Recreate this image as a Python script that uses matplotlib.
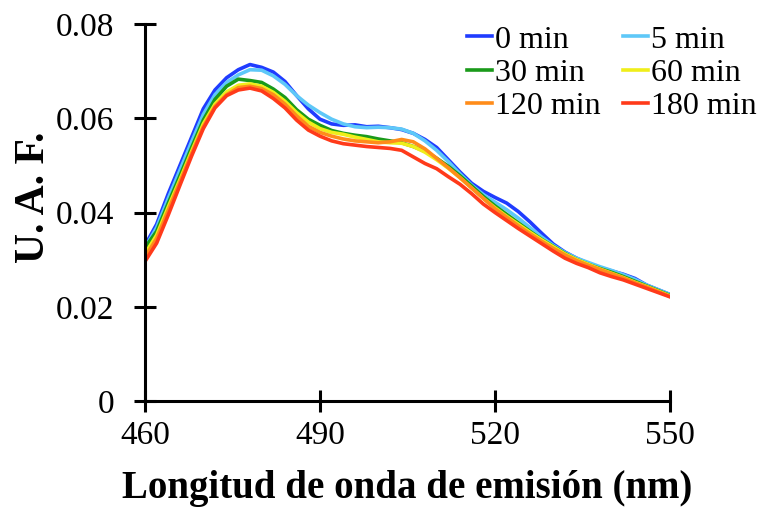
import numpy as np
import matplotlib.pyplot as plt

wl = np.arange(460, 551, 2)

min0 = [.0330, .0375, .0440, .0500, .0560, .0620, .0660, .0686, .0703, .0714,
        .0708, .0698, .0678, .0648, .0620, .0598, .0588, .0585, .0586, .0582,
        .0583, .0580, .0576, .0568, .0555, .0538, .0512, .0486, .0462, .0445,
        .0432, .0420, .0402, .0380, .0356, .0333, .0316, .0303, .0292, .0283,
        .0276, .0269, .0260, .0246, .0236, .0226]
min5 = [.0325, .0368, .0430, .0490, .0550, .0608, .0650, .0676, .0692, .0703,
        .0702, .0690, .0672, .0648, .0628, .0612, .0598, .0588, .0582, .0580,
        .0581, .0580, .0577, .0568, .0552, .0532, .0508, .0482, .0458, .0438,
        .0422, .0406, .0388, .0368, .0348, .0330, .0315, .0303, .0294, .0285,
        .0277, .0268, .0258, .0246, .0236, .0226]
min30 = [.0325, .0360, .0420, .0478, .0538, .0596, .0640, .0668, .0683, .0680,
         .0676, .0662, .0644, .0618, .0598, .0585, .0574, .0568, .0564, .0561,
         .0556, .0552, .0548, .0540, .0530, .0515, .0498, .0478, .0456, .0434,
         .0414, .0396, .0378, .0360, .0343, .0328, .0313, .0300, .0290, .0281,
         .0273, .0264, .0254, .0244, .0234, .0224]
min60 = [.0312, .0352, .0412, .0470, .0530, .0588, .0630, .0656, .0670, .0673,
         .0668, .0655, .0636, .0612, .0592, .0578, .0570, .0566, .0560, .0555,
         .0550, .0548, .0547, .0540, .0528, .0512, .0494, .0474, .0452, .0430,
         .0410, .0392, .0375, .0358, .0342, .0327, .0312, .0300, .0290, .0280,
         .0271, .0262, .0252, .0243, .0233, .0223]
min120 = [.0305, .0345, .0405, .0465, .0525, .0582, .0625, .0650, .0665, .0668,
          .0663, .0650, .0630, .0605, .0583, .0570, .0562, .0556, .0552, .0550,
          .0548, .0550, .0555, .0550, .0535, .0515, .0495, .0474, .0452, .0430,
          .0408, .0390, .0372, .0355, .0339, .0324, .0310, .0298, .0288, .0279,
          .0270, .0261, .0251, .0242, .0232, .0222]
min180 = [.0296, .0335, .0395, .0458, .0520, .0578, .0622, .0648, .0660, .0664,
          .0658, .0642, .0622, .0596, .0575, .0562, .0552, .0546, .0543, .0540,
          .0538, .0536, .0532, .0518, .0504, .0493, .0476, .0460, .0440, .0418,
          .0400, .0383, .0366, .0350, .0334, .0318, .0303, .0292, .0283, .0272,
          .0264, .0257, .0248, .0239, .0230, .0221]

labels = ["0 min", "5 min", "30 min", "60 min", "120 min", "180 min"]
colors = ["#1f3cff", "#5ec8f8", "#1a9a1a", "#f0ee1a", "#ff8c1a", "#ff3a1a"]
series = [min0, min5, min30, min60, min120, min180]

plt.rcParams['font.family'] = ['Liberation Serif', 'DejaVu Serif']

fig = plt.figure(figsize=(7.61, 5.13), dpi=100)
ax = fig.add_axes([0.1905, 0.2183, 0.6899, 0.7349])

lines = []
for y, lab, c in zip(series, labels, colors):
    ln, = ax.plot(wl, y, color=c, lw=2.6, label=lab)
    lines.append(ln)

ax.set_xlim(460, 550)
ax.set_ylim(0, 0.08)
ax.set_xticks([460, 490, 520, 550])
ax.set_yticks([0, 0.02, 0.04, 0.06, 0.08])
ax.set_yticklabels(["0", "0.02", "0.04", "0.06", "0.08"])
for s in ["top", "right"]:
    ax.spines[s].set_visible(False)
for s in ["left", "bottom"]:
    ax.spines[s].set_linewidth(2.2)
ax.tick_params(direction="inout", length=16, width=2.2, labelsize=24)
ax.tick_params(axis="y", pad=14)
ax.tick_params(axis="x", pad=6)

ax.set_xlabel("Longitud de onda de emisión (nm)", fontsize=28, fontweight="bold", labelpad=14)
ax.set_ylabel("U. A. F.", fontsize=30, fontweight="bold")
ax.yaxis.set_label_coords(-0.176, 0.541)

# legend filled row by row like the original
order = [0, 2, 4, 1, 3, 5]
ax.legend([lines[i] for i in order], [labels[i] for i in order], ncol=2,
          frameon=False, fontsize=23, handlelength=0.8, handletextpad=0.08,
          columnspacing=0.7, labelspacing=0.12, loc="upper right",
          bbox_to_anchor=(1.165, 0.997), borderaxespad=0, borderpad=0)

fig.savefig("out.png", dpi=100)
